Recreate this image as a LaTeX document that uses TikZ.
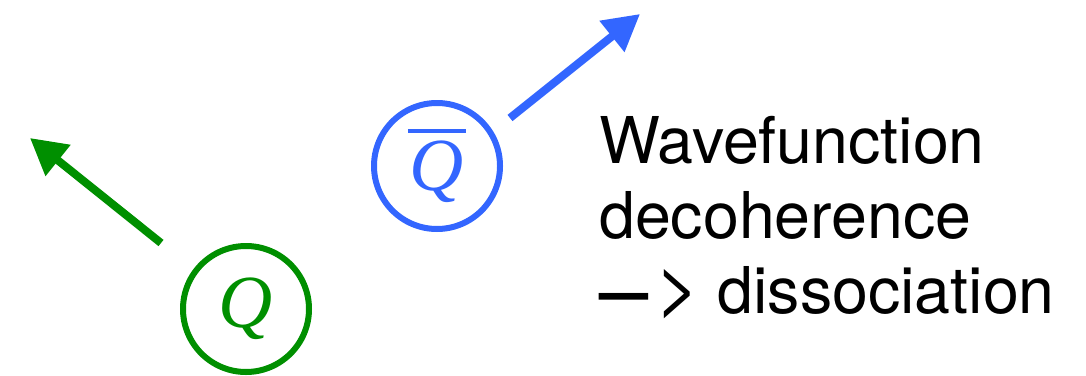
\documentclass[tikz,border=0pt]{standalone}
\usepackage{fontspec}
\setsansfont{TeX Gyre Heros}
\newfontfamily\qfont{Liberation Serif}
\usetikzlibrary{arrows.meta}
\definecolor{qgreen}{RGB}{0,143,0}
\definecolor{qblue}{RGB}{51,102,255}
\newcommand{\barQ}{\vbox{\hrule height 4pt\kern 8pt\hbox{\kern2pt Q\kern2pt}}}
\tikzset{
  quark/.style={circle, draw, line width=6pt, minimum size=126pt, inner sep=0pt,
    font=\qfont\itshape\fontsize{75}{90}\selectfont},
  motion/.style={line width=8pt, -{Triangle[length=36pt,width=38pt]}},
  caption/.style={anchor=base west, inner sep=0pt, font=\sffamily\fontsize{64.5}{75}\selectfont}
}
\begin{document}
\begin{tikzpicture}[x=1pt,y=-1pt]
\useasboundingbox (0,0) rectangle (1086,375);
\node[quark, qgreen] (q) at (246,309) {Q};
\node[quark, qblue] (qb) at (437,166) {\barQ};
\coordinate (gtail) at (161,243);
\coordinate (gtip) at (30,138);
\coordinate (btail) at (510,118);
\coordinate (btip) at (640,14);
\draw[motion, qgreen] (gtail) -- (gtip);
\draw[motion, qblue] (btail) -- (btip);
\node[caption] (t1) at (599,163) {Wavefunction};
\node[caption] (t2) at (599,238) {decoherence};
\node[caption] (t3) at (599,313) {\scalebox{0.76}[1]{\bfseries —}\kern0.12em\scalebox{1.2}{>}\kern-0.02em{} dissociation};
\end{tikzpicture}
\end{document}
